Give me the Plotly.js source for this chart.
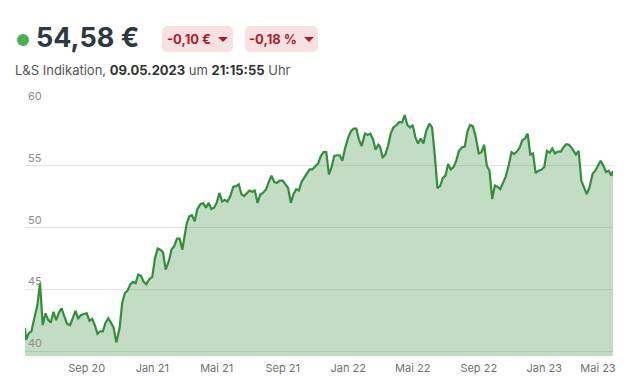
<!DOCTYPE html>
<html>
<head>
<meta charset="utf-8">
<script src="https://cdn.plot.ly/plotly-3.0.1.min.js"></script>
<style>
  html, body { margin: 0; padding: 0; background: #fff; width: 631px; height: 381px; overflow: hidden; font-family: Inter, "Open Sans", sans-serif; }
  #dot { position: absolute; left: 17px; top: 34px; width: 12px; height: 12px; border-radius: 50%; background: #4caf50; }
  #price { position: absolute; left: 36px; top: 24px; font-size: 27px; line-height: 27px; font-weight: 700; color: #2b3a42; white-space: nowrap; }
  .badge { position: absolute; top: 26px; height: 26px; border-radius: 5px; background: #fae1e1; color: #ab1f2c; font-size: 13px; font-weight: 700; display: flex; align-items: center; justify-content: center; white-space: nowrap; }
  .caret { display: inline-block; width: 0; height: 0; border-left: 5px solid transparent; border-right: 5px solid transparent; border-top: 5px solid #ab1f2c; margin-left: 7px; }
  #b1 { left: 162px; width: 71px; }
  #b2 { left: 245px; width: 73px; }
  #sub { position: absolute; left: 15px; top: 64px; font-size: 13px; line-height: 13px; color: #555; white-space: nowrap; }
  #sub b { color: #333; font-weight: 700; }
  #chart { position: absolute; left: 0; top: 91px; width: 631px; height: 290px; overflow: hidden; }
</style>
</head>
<body>
<div id="dot"></div>
<div id="price">54,58 €</div>
<div class="badge" id="b1">-0,10 €<span class="caret"></span></div>
<div class="badge" id="b2">-0,18 %<span class="caret"></span></div>
<div id="sub">L&amp;S Indikation, <b>09.05.2023</b> um <b>21:15:55</b> Uhr</div>
<div id="chart"></div>
<script>
const dates = [
"2020-05-09","2020-05-11","2020-05-16","2020-05-21","2020-05-26",
"2020-06-01","2020-06-06","2020-06-11","2020-06-16","2020-06-21","2020-06-26",
"2020-07-01","2020-07-06","2020-07-11","2020-07-16","2020-07-21","2020-07-26",
"2020-08-01","2020-08-06","2020-08-11","2020-08-16","2020-08-21","2020-08-26",
"2020-09-01","2020-09-06","2020-09-11","2020-09-16","2020-09-21","2020-09-26",
"2020-10-01","2020-10-06","2020-10-11","2020-10-16","2020-10-21","2020-10-26",
"2020-11-01","2020-11-06","2020-11-11","2020-11-16","2020-11-21","2020-11-26",
"2020-12-01","2020-12-06","2020-12-11","2020-12-16","2020-12-21","2020-12-26",
"2021-01-01","2021-01-06","2021-01-11","2021-01-16","2021-01-21","2021-01-26",
"2021-02-01","2021-02-06","2021-02-11","2021-02-16","2021-02-21","2021-02-26",
"2021-03-01","2021-03-06","2021-03-11","2021-03-16","2021-03-21","2021-03-26",
"2021-04-01","2021-04-06","2021-04-11","2021-04-16","2021-04-21","2021-04-26",
"2021-05-01","2021-05-06","2021-05-11","2021-05-16","2021-05-21","2021-05-26",
"2021-06-01","2021-06-06","2021-06-11","2021-06-16","2021-06-21","2021-06-26",
"2021-07-01","2021-07-06","2021-07-11","2021-07-16","2021-07-21","2021-07-26",
"2021-08-01","2021-08-06","2021-08-11","2021-08-16","2021-08-21","2021-08-26",
"2021-09-01","2021-09-06","2021-09-11","2021-09-16","2021-09-21","2021-09-26",
"2021-10-01","2021-10-06","2021-10-11","2021-10-16","2021-10-21","2021-10-26",
"2021-11-01","2021-11-06","2021-11-11","2021-11-16","2021-11-21","2021-11-26",
"2021-12-01","2021-12-06","2021-12-11","2021-12-16","2021-12-21","2021-12-26",
"2022-01-01","2022-01-06","2022-01-11","2022-01-16","2022-01-21","2022-01-26",
"2022-02-01","2022-02-06","2022-02-11","2022-02-16","2022-02-21","2022-02-26",
"2022-03-01","2022-03-06","2022-03-11","2022-03-16","2022-03-21","2022-03-26",
"2022-04-01","2022-04-06","2022-04-11","2022-04-16","2022-04-21","2022-04-26",
"2022-05-01","2022-05-06","2022-05-11","2022-05-16","2022-05-21","2022-05-26",
"2022-06-01","2022-06-06","2022-06-11","2022-06-16","2022-06-21","2022-06-26",
"2022-07-01","2022-07-06","2022-07-11","2022-07-16","2022-07-21","2022-07-26",
"2022-08-01","2022-08-06","2022-08-11","2022-08-16","2022-08-21","2022-08-26",
"2022-09-01","2022-09-06","2022-09-11","2022-09-16","2022-09-21","2022-09-26",
"2022-10-01","2022-10-06","2022-10-11","2022-10-16","2022-10-21","2022-10-26",
"2022-11-01","2022-11-06","2022-11-11","2022-11-16","2022-11-21","2022-11-26",
"2022-12-01","2022-12-06","2022-12-11","2022-12-16","2022-12-21","2022-12-26",
"2023-01-01","2023-01-06","2023-01-11","2023-01-16","2023-01-21","2023-01-26",
"2023-02-01","2023-02-06","2023-02-11","2023-02-16","2023-02-21","2023-02-26",
"2023-03-01","2023-03-06","2023-03-11","2023-03-16","2023-03-21","2023-03-26",
"2023-04-01","2023-04-06","2023-04-11","2023-04-16","2023-04-21","2023-04-26",
"2023-05-01","2023-05-06","2023-05-09"
];
const prices = [
41.84,40.9,41.45,41.6,42.6,
43.7,45.5,42.1,43.05,42.55,42.3,
43.18,42.5,43.1,43.45,42.85,42.24,
42.1,42.65,43.25,42.65,42.9,43.0,
43.05,42.45,42.6,42.1,41.4,41.6,
41.6,42.3,42.65,42.3,41.9,40.7,
41.8,43.9,44.7,44.9,45.4,45.6,
45.5,46.2,46.1,45.6,45.4,45.8,
46.0,47.5,48.3,48.2,48.0,46.6,
47.3,48.25,48.5,49.1,49.1,48.2,
48.9,50.3,50.9,51.0,50.5,51.5,
51.9,51.96,51.6,52.0,51.5,51.6,
52.0,52.8,52.1,52.25,52.1,52.5,
53.3,53.35,53.5,52.7,52.55,52.8,
53.0,52.9,53.0,52.0,52.65,52.8,
53.1,53.7,54.2,53.7,53.6,53.8,
53.8,53.5,53.2,52.0,52.7,53.1,
53.0,53.7,54.0,54.4,54.7,54.7,
55.0,55.2,55.8,56.1,56.1,54.3,
54.9,55.8,55.85,55.85,55.4,56.4,
57.3,57.8,58.0,58.0,57.1,56.6,
57.6,57.5,57.6,57.15,56.3,56.7,
56.55,55.7,55.9,56.6,57.6,58.1,
58.3,58.55,58.5,59.1,58.3,58.1,
58.3,57.3,56.8,57.2,56.8,57.8,
58.4,58.1,55.9,53.2,53.35,54.0,
54.2,55.15,54.7,54.9,55.4,56.2,
56.5,56.55,57.8,58.3,58.2,57.4,
56.0,56.1,56.7,55.0,54.6,52.3,
53.4,53.3,53.1,53.6,54.1,54.9,
56.1,55.95,56.15,56.45,57.05,57.2,
57.6,55.9,56.0,54.4,54.6,54.66,
54.9,56.2,56.05,56.4,56.0,56.15,
56.15,56.5,56.75,56.7,56.45,56.1,
55.9,56.2,53.8,53.25,52.7,53.2,
54.35,54.6,54.95,55.4,55.0,54.5,
54.6,54.2,54.58
];
const xTickVals = ["2020-09-01","2021-01-01","2021-05-01","2021-09-01","2022-01-01","2022-05-01","2022-09-01","2023-01-01","2023-04-11"];
const xTickText = ["Sep 20","Jan 21","Mai 21","Sep 21","Jan 22","Mai 22","Sep 22","Jan 23","Mai 23"];
const yTickVals = [40, 45, 50, 55, 60];
const yTickText = ["40", "45", "50", "55", "60"];

const trace = {
  x: dates, y: prices, type: "scatter", mode: "lines",
  line: { color: "#338e3c", width: 2.2 },
  fill: "tozeroy", fillcolor: "rgba(56,142,60,0.3)",
  hoverinfo: "skip"
};
const layout = {
  width: 631, height: 290,
  margin: { l: 25, r: 18, t: 13, b: 25, pad: 0 },
  paper_bgcolor: "#fff", plot_bgcolor: "#fff",
  showlegend: false,
  font: { family: "Inter, 'Open Sans', sans-serif", size: 11, color: "#777" },
  xaxis: {
    type: "date", range: ["2020-05-09", "2023-05-09"],
    tickmode: "array", tickvals: xTickVals, ticktext: xTickText,
    showgrid: false, zeroline: false, showline: false, ticks: "",
    ticklabelstandoff: 4,
    tickfont: { size: 11, color: "#707070" }, fixedrange: true
  },
  yaxis: {
    range: [39.6, 60],
    tickmode: "array", tickvals: yTickVals, ticktext: yTickText,
    ticklabelposition: "inside top", ticklabeloverflow: "allow",
    showgrid: true, gridcolor: "#e3e3e3", gridwidth: 1,
    zeroline: false, showline: false, ticks: "",
    tickfont: { size: 11, color: "#8c8c8c" }, fixedrange: true
  }
};
Plotly.newPlot("chart", [trace], layout, { displayModeBar: false, staticPlot: true });
</script>
</body>
</html>
